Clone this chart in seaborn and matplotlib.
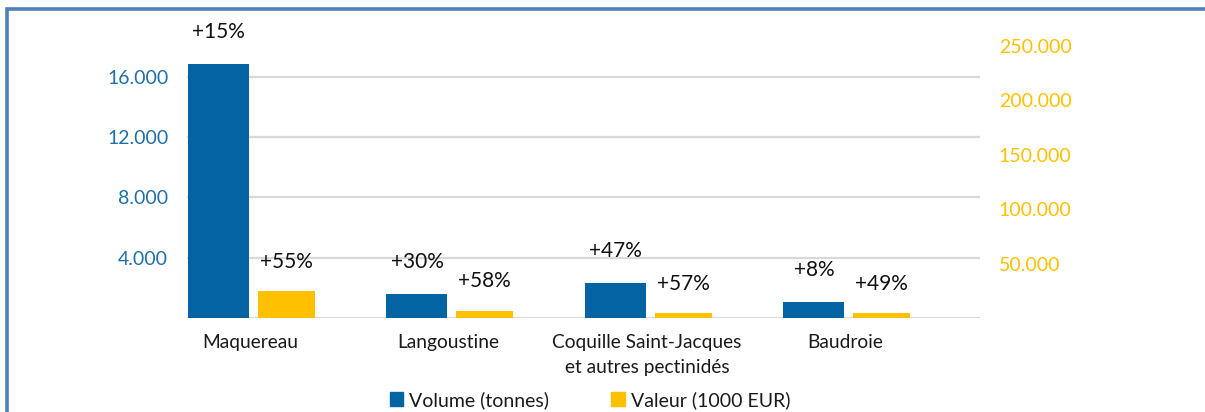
import matplotlib
matplotlib.use("Agg")
import matplotlib.pyplot as plt
from matplotlib.patches import Rectangle
import seaborn as sns
import pandas as pd

# Data
categories = ["Maquereau", "Langoustine", "Coquille Saint-Jacques\net autres pectinidés", "Baudroie"]
volume_tonnes = [16840, 1590, 2320, 1060]
valeur_keur = [24800, 7000, 4800, 4600]
volume_change = ["+15%", "+30%", "+47%", "+8%"]
valeur_change = ["+55%", "+58%", "+57%", "+49%"]
left_ticks = [4000, 8000, 12000, 16000]
right_ticks = [50000, 100000, 150000, 200000, 250000]

BLUE = "#0463a3"
YELLOW = "#ffc000"
TICK_BLUE = "#1f6fa8"
FRAME = "#4f81bd"


def fmt(v):
    return f"{v:,}".replace(",", ".")


def main():
    sns.set_theme(style="white")
    plt.rcParams["font.family"] = ["Lato", "DejaVu Sans"]

    fig = plt.figure(figsize=(12.05, 4.12), dpi=100)
    ax = fig.add_axes([187 / 1205, 1 - 318.3 / 412, (980 - 187) / 1205, (318.3 - 46) / 412])
    ax2 = ax.twinx()

    df = pd.DataFrame({"cat": categories, "vol": volume_tonnes, "val": valeur_keur})
    sns.barplot(data=df, x="cat", y="vol", color=BLUE, saturation=1, ax=ax, width=0.3)
    sns.barplot(data=df, x="cat", y="val", color=YELLOW, saturation=1, ax=ax2, width=0.3)

    # place the two bars side by side within each category
    for p in ax.patches:
        c = p.get_x() + p.get_width() / 2
        p.set_width(0.307)
        p.set_x(c + 0.015 - 0.307 - 0.02)
        p.set_edgecolor("none")
    for p in ax2.patches:
        c = p.get_x() + p.get_width() / 2
        p.set_width(0.287)
        p.set_x(c + 0.015 + 0.025)
        p.set_edgecolor("none")

    ax.set_xlim(-0.317, 3.678)
    ax.set_ylim(0, 18030)
    ax2.set_ylim(0, 250000)

    ax.set_yticks(left_ticks)
    ax.set_yticklabels([fmt(t) for t in left_ticks], color=TICK_BLUE, fontsize=14)
    ax2.set_yticks(right_ticks)
    ax2.set_yticklabels([fmt(t) for t in right_ticks], color=YELLOW, fontsize=14)
    ax.tick_params(axis="y", length=0, pad=13.5)
    ax2.tick_params(axis="y", length=0, pad=13.5)
    ax.tick_params(axis="x", length=0, pad=11)
    ax.set_xticklabels(categories, fontsize=13.8, color="#1a1a1a", linespacing=1.6)
    ax.set_xlabel("")
    ax.set_ylabel("")
    ax2.set_ylabel("")

    ax.yaxis.grid(True, color="#d9d9d9", linewidth=1.6)
    ax.set_axisbelow(True)
    for a in (ax, ax2):
        for s in a.spines.values():
            s.set_visible(False)
    ax.axhline(0, color="#d9d9d9", linewidth=1.6, zorder=0)

    # percentage changes above bars
    for p, lab in zip(ax.patches, volume_change):
        ax.annotate(lab, (p.get_x() + p.get_width() / 2, p.get_height()),
                    xytext=(0, 16), textcoords="offset points",
                    ha="center", va="bottom", fontsize=15, color="#111111")
    for p, lab in zip(ax2.patches, valeur_change):
        ax2.annotate(lab, (p.get_x() + p.get_width() / 2, p.get_height()),
                     xytext=(0, 14), textcoords="offset points",
                     ha="center", va="bottom", fontsize=15, color="#111111")

    handles = [Rectangle((0, 0), 1, 1, color=BLUE), Rectangle((0, 0), 1, 1, color=YELLOW)]
    fig.legend(handles, ["Volume (tonnes)", "Valeur (1000 EUR)"], loc="center",
               bbox_to_anchor=(590 / 1205, 1 - 400 / 412), ncol=2, frameon=False,
               fontsize=14, handlelength=0.7, handleheight=0.7, handletextpad=0.3,
               columnspacing=3.2, labelcolor="#1a1a1a", borderpad=0.1)

    # partial blue frame of the source figure
    fig.add_artist(Rectangle((7.5 / 1205, -0.1), 1.2, 1 - 9.5 / 412 + 0.1,
                             transform=fig.transFigure, fill=False,
                             edgecolor=FRAME, linewidth=2.6, clip_on=False))

    fig.savefig("out.png", dpi=100)


if __name__ == "__main__":
    main()
